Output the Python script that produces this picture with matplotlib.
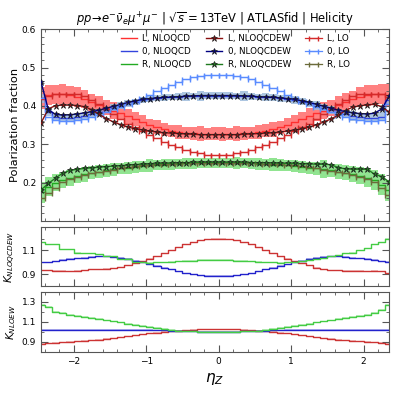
import numpy as np
import matplotlib
matplotlib.use('Agg')
import matplotlib.pyplot as plt
from matplotlib.ticker import MultipleLocator

# bin centres in eta_Z
eta = np.round(np.arange(-2.45, 2.36, 0.1), 2)

# polarization fractions
L_LO = [0.418, 0.425, 0.430, 0.432, 0.432, 0.430, 0.425, 0.416, 0.405, 0.392, 0.378, 0.365, 0.354, 0.344, 0.334, 0.325, 0.316, 0.307, 0.299, 0.292, 0.286, 0.280, 0.276, 0.273, 0.271,
        0.271, 0.273, 0.276, 0.280, 0.286, 0.292, 0.299, 0.307, 0.316, 0.325, 0.334, 0.344, 0.354, 0.365, 0.378, 0.392, 0.405, 0.416, 0.425, 0.430, 0.432, 0.432, 0.430, 0.424]
L_QCD = [0.420, 0.428, 0.430, 0.430, 0.428, 0.424, 0.418, 0.410, 0.402, 0.395, 0.388, 0.381, 0.373, 0.365, 0.357, 0.350, 0.344, 0.339, 0.335, 0.332, 0.330, 0.329, 0.328, 0.327, 0.327,
         0.327, 0.327, 0.328, 0.329, 0.330, 0.332, 0.335, 0.339, 0.344, 0.350, 0.357, 0.365, 0.373, 0.381, 0.388, 0.395, 0.402, 0.410, 0.418, 0.424, 0.428, 0.430, 0.430, 0.428]
L_QCD_err = [0.028, 0.026, 0.025, 0.027, 0.024, 0.026, 0.023, 0.022, 0.024, 0.020, 0.021, 0.019, 0.020, 0.018, 0.019, 0.017, 0.018, 0.017, 0.016, 0.018, 0.016, 0.017, 0.019, 0.016, 0.017,
             0.018, 0.016, 0.019, 0.017, 0.016, 0.018, 0.017, 0.019, 0.017, 0.018, 0.020, 0.019, 0.021, 0.020, 0.022, 0.021, 0.023, 0.024, 0.022, 0.025, 0.027, 0.024, 0.026, 0.028]
L_EW = [0.356, 0.392, 0.401, 0.402, 0.402, 0.401, 0.398, 0.390, 0.378, 0.367, 0.358, 0.351, 0.345, 0.340, 0.337, 0.334, 0.332, 0.330, 0.329, 0.328, 0.327, 0.326, 0.325, 0.325, 0.325,
        0.325, 0.325, 0.325, 0.326, 0.327, 0.328, 0.329, 0.330, 0.332, 0.334, 0.337, 0.340, 0.345, 0.351, 0.358, 0.366, 0.376, 0.388, 0.397, 0.400, 0.403, 0.404, 0.398, 0.384]

Z_LO = [0.420, 0.370, 0.363, 0.361, 0.361, 0.362, 0.365, 0.370, 0.377, 0.384, 0.391, 0.398, 0.405, 0.412, 0.420, 0.429, 0.438, 0.447, 0.455, 0.463, 0.469, 0.474, 0.478, 0.480, 0.481,
        0.481, 0.480, 0.478, 0.474, 0.469, 0.463, 0.455, 0.447, 0.438, 0.429, 0.420, 0.412, 0.405, 0.398, 0.391, 0.384, 0.377, 0.370, 0.365, 0.362, 0.361, 0.361, 0.363, 0.405]
Z_QCD = [0.420, 0.385, 0.372, 0.369, 0.369, 0.371, 0.374, 0.378, 0.383, 0.389, 0.395, 0.401, 0.406, 0.411, 0.415, 0.418, 0.420, 0.422, 0.423, 0.424, 0.425, 0.426, 0.426, 0.427, 0.427,
         0.427, 0.427, 0.426, 0.426, 0.425, 0.424, 0.423, 0.422, 0.420, 0.418, 0.415, 0.411, 0.406, 0.401, 0.395, 0.389, 0.383, 0.378, 0.374, 0.371, 0.369, 0.369, 0.372, 0.415]
Z_QCD_err = [0.012, 0.011, 0.010, 0.009, 0.010, 0.009, 0.008, 0.009, 0.010, 0.008, 0.009, 0.008, 0.009, 0.008, 0.008, 0.009, 0.008, 0.010, 0.008, 0.009, 0.011, 0.008, 0.012, 0.009, 0.010,
             0.009, 0.010, 0.008, 0.013, 0.009, 0.008, 0.010, 0.008, 0.009, 0.008, 0.010, 0.009, 0.008, 0.011, 0.009, 0.010, 0.009, 0.010, 0.013, 0.011, 0.010, 0.010, 0.011, 0.013]
Z_EW = [0.462, 0.390, 0.378, 0.376, 0.377, 0.379, 0.382, 0.385, 0.389, 0.394, 0.399, 0.404, 0.409, 0.413, 0.417, 0.419, 0.421, 0.422, 0.423, 0.424, 0.425, 0.426, 0.427, 0.427, 0.427,
        0.427, 0.427, 0.427, 0.426, 0.425, 0.424, 0.423, 0.422, 0.421, 0.419, 0.417, 0.413, 0.409, 0.404, 0.399, 0.394, 0.389, 0.385, 0.382, 0.380, 0.379, 0.381, 0.392, 0.425]

R_LO = [0.160, 0.174, 0.187, 0.201, 0.209, 0.216, 0.221, 0.224, 0.227, 0.231, 0.234, 0.237, 0.240, 0.243, 0.245, 0.247, 0.248, 0.249, 0.249, 0.250, 0.250, 0.250, 0.250, 0.250, 0.250,
        0.250, 0.250, 0.250, 0.250, 0.250, 0.250, 0.249, 0.249, 0.248, 0.247, 0.245, 0.243, 0.240, 0.237, 0.234, 0.231, 0.227, 0.224, 0.221, 0.216, 0.209, 0.201, 0.187, 0.168]
R_QCD = [0.175, 0.190, 0.200, 0.207, 0.213, 0.218, 0.222, 0.226, 0.229, 0.232, 0.235, 0.237, 0.239, 0.241, 0.243, 0.245, 0.246, 0.247, 0.248, 0.249, 0.250, 0.250, 0.251, 0.251, 0.251,
         0.251, 0.251, 0.251, 0.250, 0.250, 0.249, 0.248, 0.247, 0.246, 0.245, 0.243, 0.241, 0.239, 0.237, 0.235, 0.232, 0.229, 0.226, 0.222, 0.218, 0.213, 0.207, 0.195, 0.180]
R_QCD_err = [0.028, 0.025, 0.022, 0.020, 0.021, 0.018, 0.019, 0.017, 0.018, 0.016, 0.017, 0.015, 0.016, 0.015, 0.014, 0.016, 0.014, 0.015, 0.014, 0.013, 0.015, 0.014, 0.013, 0.014, 0.013,
             0.014, 0.013, 0.015, 0.013, 0.014, 0.015, 0.014, 0.016, 0.015, 0.014, 0.016, 0.016, 0.016, 0.017, 0.024, 0.017, 0.019, 0.020, 0.021, 0.022, 0.024, 0.025, 0.027, 0.028]
R_EW = [0.181, 0.198, 0.212, 0.225, 0.232, 0.235, 0.237, 0.239, 0.240, 0.242, 0.243, 0.244, 0.246, 0.247, 0.248, 0.249, 0.250, 0.250, 0.251, 0.252, 0.252, 0.253, 0.253, 0.253, 0.253,
        0.253, 0.253, 0.253, 0.253, 0.252, 0.252, 0.252, 0.251, 0.251, 0.250, 0.250, 0.249, 0.249, 0.248, 0.248, 0.247, 0.239, 0.236, 0.235, 0.235, 0.235, 0.222, 0.216, 0.202]

# K factors NLOQCDEW / LO
K1_L = [0.935, 0.935, 0.930, 0.930, 0.925, 0.930, 0.935, 0.940, 0.940, 0.945, 0.950, 0.960, 0.975, 0.990, 1.010, 1.030, 1.050, 1.075, 1.100, 1.125, 1.150, 1.170, 1.185, 1.195, 1.200,
        1.200, 1.195, 1.185, 1.170, 1.150, 1.125, 1.100, 1.075, 1.050, 1.030, 1.010, 0.990, 0.975, 0.955, 0.940, 0.935, 0.935, 0.930, 0.930, 0.930, 0.925, 0.930, 0.925, 0.910]
K1_Z = [1.000, 1.000, 1.010, 1.020, 1.030, 1.035, 1.040, 1.045, 1.050, 1.050, 1.045, 1.040, 1.030, 1.015, 1.000, 0.985, 0.970, 0.955, 0.940, 0.925, 0.910, 0.900, 0.893, 0.888, 0.886,
        0.886, 0.888, 0.893, 0.900, 0.910, 0.925, 0.940, 0.955, 0.970, 0.985, 1.000, 1.015, 1.030, 1.040, 1.045, 1.050, 1.050, 1.045, 1.040, 1.035, 1.030, 1.020, 1.010, 1.005]
K1_R = [1.170, 1.150, 1.150, 1.110, 1.110, 1.080, 1.075, 1.075, 1.070, 1.050, 1.050, 1.030, 1.030, 1.000, 1.000, 0.995, 1.000, 1.000, 1.005, 1.010, 1.015, 1.015, 1.020, 1.020, 1.020,
        1.020, 1.020, 1.015, 1.015, 1.010, 1.005, 1.000, 1.000, 0.995, 1.000, 1.000, 1.010, 1.020, 1.030, 1.040, 1.050, 1.060, 1.075, 1.080, 1.100, 1.120, 1.150, 1.170, 1.200]

# K factors NLOEW
K2_L = [0.880, 0.885, 0.890, 0.895, 0.900, 0.905, 0.910, 0.915, 0.920, 0.930, 0.935, 0.945, 0.955, 0.965, 0.975, 0.985, 0.990, 1.000, 1.005, 1.010, 1.015, 1.020, 1.025, 1.025, 1.025,
        1.025, 1.025, 1.025, 1.020, 1.015, 1.010, 1.005, 1.000, 0.990, 0.985, 0.975, 0.965, 0.955, 0.945, 0.935, 0.930, 0.920, 0.915, 0.910, 0.905, 0.900, 0.895, 0.890, 0.882]
K2_Z = [1.020, 1.020, 1.020, 1.020, 1.020, 1.020, 1.020, 1.020, 1.020, 1.020, 1.020, 1.020, 1.020, 1.020, 1.020, 1.020, 1.015, 1.015, 1.010, 1.010, 1.005, 1.005, 1.000, 1.000, 1.000,
        1.000, 1.000, 1.000, 1.005, 1.005, 1.010, 1.010, 1.015, 1.015, 1.020, 1.020, 1.020, 1.020, 1.020, 1.020, 1.020, 1.020, 1.020, 1.020, 1.020, 1.020, 1.020, 1.020, 1.020]
K2_R = [1.270, 1.250, 1.200, 1.190, 1.170, 1.160, 1.150, 1.140, 1.130, 1.115, 1.105, 1.095, 1.080, 1.070, 1.060, 1.050, 1.040, 1.030, 1.020, 1.010, 1.005, 1.005, 1.000, 1.000, 1.000,
        1.000, 1.000, 1.000, 1.005, 1.005, 1.010, 1.020, 1.030, 1.040, 1.050, 1.060, 1.070, 1.080, 1.095, 1.105, 1.115, 1.130, 1.140, 1.150, 1.160, 1.170, 1.190, 1.220, 1.270]

c_band = {'L': '#ff6b6b', '0': '#9fbcdc', 'R': '#7ee07e'}
c_qcd = {'L': '#ff3030', '0': '#3344dd', 'R': '#22aa22'}
c_ew = {'L': '#8b1010', '0': '#000080', 'R': '#1e7a1e'}
c_lo = {'L': '#d42a2a', '0': '#5a8cff', 'R': '#6b6b3a'}

plt.rcParams['font.size'] = 7
fig = plt.figure(figsize=(3.99, 3.99), dpi=100)
ax1 = fig.add_axes([0.103, 0.446, 0.872, 0.481])
ax2 = fig.add_axes([0.103, 0.283, 0.872, 0.149])
ax3 = fig.add_axes([0.103, 0.118, 0.872, 0.151])

handles_qcd, handles_ew, handles_lo = [], [], []
for key, lo, qcd, err, ew in [('L', L_LO, L_QCD, L_QCD_err, L_EW),
                              ('0', Z_LO, Z_QCD, Z_QCD_err, Z_EW),
                              ('R', R_LO, R_QCD, R_QCD_err, R_EW)]:
    qcd = np.array(qcd)
    err = np.array(err)
    ax1.fill_between(eta, qcd - err, qcd + err, step='mid', color=c_band[key],
                     alpha=0.85, lw=0, zorder=1)
    hq, = ax1.plot(eta, qcd, drawstyle='steps-mid', color=c_qcd[key], lw=1, zorder=2,
                   label=f'{key}, NLOQCD')
    hl = ax1.errorbar(eta, lo, xerr=0.05, color=c_lo[key], lw=0.9, capsize=1.8,
                      elinewidth=0.9, drawstyle='steps-mid', zorder=3, label=f'{key}, LO')
    he, = ax1.plot(eta, ew, color=c_ew[key], lw=1, marker='*', ms=4.8,
                   mec='#202020', mew=0.5, zorder=4, label=f'{key}, NLOQCDEW')
    handles_qcd.append(hq)
    handles_ew.append(he)
    handles_lo.append(hl)

ax1.legend(handles=handles_qcd + handles_ew + handles_lo, ncol=3, frameon=False,
           fontsize=6.3, loc='upper right', bbox_to_anchor=(0.91, 1.015),
           handlelength=1.9, handletextpad=0.6, columnspacing=1.6, labelspacing=0.45)

ax1.set_ylim(0.1, 0.6)
ax1.set_yticks([0.2, 0.3, 0.4, 0.5, 0.6])
ax1.yaxis.set_minor_locator(MultipleLocator(0.02))
ax1.set_ylabel('Polarization fraction', fontsize=8.2)
ax1.set_title(r'$pp\!\to\! e^{-}\bar{\nu}_{e}\mu^{+}\mu^{-}$ | $\sqrt{s}=$13TeV | ATLASfid | Helicity',
              fontsize=8.3, pad=3)

for K, ax in [((K1_L, K1_Z, K1_R), ax2), ((K2_L, K2_Z, K2_R), ax3)]:
    for key, vals in zip(['L', '0', 'R'], K):
        vals = np.array(vals)
        line_c = {'L': '#cc3333', '0': '#2222cc', 'R': '#44cc44'}[key]
        ax.fill_between(eta, vals - 0.008, vals + 0.004, step='mid', color=line_c,
                        alpha=0.3, lw=0)
        ax.plot(eta, vals, drawstyle='steps-mid', color=line_c, lw=1)

ax2.set_ylim(0.8, 1.3)
ax2.set_yticks([0.9, 1.1])
ax2.yaxis.set_minor_locator(MultipleLocator(0.1))
ax2.set_ylabel(r'$K_{NLOQCDEW}$', fontsize=7.5)
ax3.set_ylim(0.8, 1.4)
ax3.set_yticks([0.9, 1.1, 1.3])
ax3.yaxis.set_minor_locator(MultipleLocator(0.1))
ax3.set_ylabel(r'$K_{NLOEW}$', fontsize=7.5)
ax3.set_xlabel(r'$\eta_Z$', fontsize=11)

for ax in (ax1, ax2, ax3):
    ax.set_xlim(eta[0], eta[-1])
    ax.xaxis.set_major_locator(MultipleLocator(1))
    ax.xaxis.set_minor_locator(MultipleLocator(0.2))
    ax.tick_params(which='both', direction='in', top=True, right=True,
                   labelsize=6.5, color='#555555')
    ax.tick_params(which='major', length=5)
    ax.tick_params(which='minor', length=2.5)
    for s in ax.spines.values():
        s.set_color('#555555')
    ax.tick_params(labelbottom=(ax is ax3))
ax1.yaxis.set_label_coords(-0.062, 0.5)
ax2.yaxis.set_label_coords(-0.065, 0.5)
ax3.yaxis.set_label_coords(-0.065, 0.5)

fig.savefig('out.png', dpi=100)
